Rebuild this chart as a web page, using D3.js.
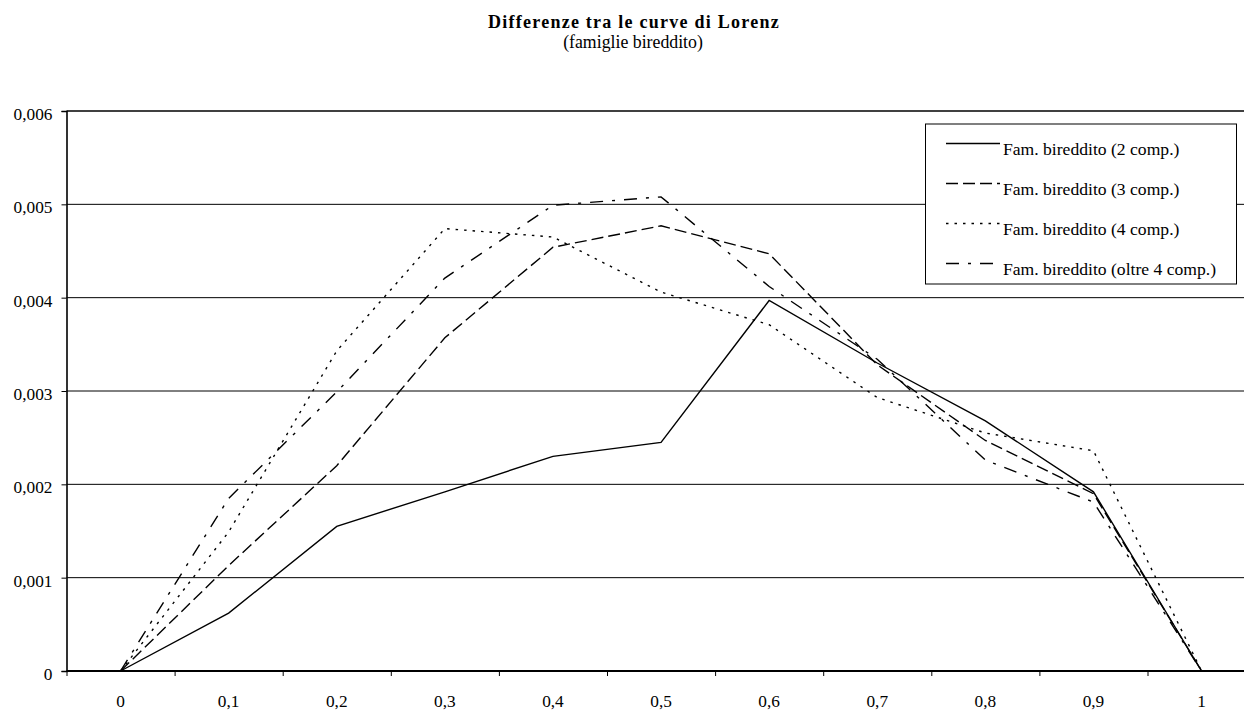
<!DOCTYPE html>
<html>
<head>
<meta charset="utf-8">
<script src="https://cdn.jsdelivr.net/npm/d3@7"></script>
<style>
  html, body { margin: 0; padding: 0; background: #fff; }
  svg { display: block; }
  text { font-family: "Liberation Serif", "Times New Roman", serif; fill: #000; }
</style>
</head>
<body>
<svg id="chart" width="1244" height="711"></svg>
<script>
// ---- data ----
const categories = ["0", "0,1", "0,2", "0,3", "0,4", "0,5", "0,6", "0,7", "0,8", "0,9", "1"];
const seriesNames = [
  "Fam. bireddito (2 comp.)",
  "Fam. bireddito (3 comp.)",
  "Fam. bireddito (4 comp.)",
  "Fam. bireddito (oltre 4 comp.)"
];
const comp2 = [0, 0.00062, 0.00155, 0.00192, 0.00230, 0.00245, 0.00397, 0.00330, 0.00268, 0.00192, 0];
const comp3 = [0, 0.00113, 0.00220, 0.00357, 0.00454, 0.00477, 0.00447, 0.00328, 0.00247, 0.00190, 0];
const comp4 = [0, 0.00149, 0.00343, 0.00474, 0.00465, 0.00406, 0.00371, 0.00293, 0.00255, 0.00236, 0];
const compOltre4 = [0, 0.00185, 0.00299, 0.00421, 0.00499, 0.00508, 0.00412, 0.00334, 0.00226, 0.00181, 0];
const yTicks = [0, 0.001, 0.002, 0.003, 0.004, 0.005, 0.006];
const yTickLabels = ["0", "0,001", "0,002", "0,003", "0,004", "0,005", "0,006"];
const titleText = "Differenze tra le curve di Lorenz";
const subtitleText = "(famiglie bireddito)";

// ---- layout ----
const plot = { left: 66.5, right: 1255.6, top: 111, bottom: 671 };
const svg = d3.select("#chart");

const x = d3.scaleBand().domain(categories).range([plot.left, plot.right]).padding(0);
const xb = d3.scaleLinear().domain([0, categories.length]).range([plot.left, plot.right]);
const y = d3.scaleLinear().domain([0, 0.006]).range([plot.bottom, plot.top]);
const cx = c => x(c) + x.bandwidth() / 2;

// title
svg.append("text").attr("x", 634).attr("y", 28).attr("text-anchor", "middle")
  .style("font-size", "18px").style("font-weight", "bold").style("letter-spacing", "1.25px")
  .text(titleText);
svg.append("text").attr("x", 633).attr("y", 48).attr("text-anchor", "middle")
  .style("font-size", "17.8px").text(subtitleText);

// gridlines
svg.append("g").selectAll("line").data(yTicks.filter(d => d > 0)).join("line")
  .attr("x1", plot.left).attr("x2", plot.right)
  .attr("y1", d => y(d)).attr("y2", d => y(d))
  .attr("stroke", "#000").attr("stroke-width", d => d === 0.006 ? 1.6 : 1);

// y axis
const yAxis = svg.append("g").attr("transform", `translate(${plot.left},0)`)
  .call(d3.axisLeft(y).tickValues(yTicks).tickSize(5).tickPadding(9)
    .tickFormat((d, i) => yTickLabels[i]));
yAxis.select(".domain").attr("stroke", "#000").attr("stroke-width", 1.6);
yAxis.selectAll(".tick line").attr("stroke", "#000").attr("stroke-width", 1);
yAxis.selectAll(".tick text").style("font-size", "17.3px")
  .attr("font-family", null).attr("dy", "0.5em");

// x axis: tick marks at category boundaries
const xTicks = svg.append("g").attr("transform", `translate(0,${plot.bottom})`)
  .call(d3.axisBottom(xb).tickValues(d3.range(0, categories.length + 1)).tickSize(5).tickFormat(""));
xTicks.select(".domain").remove();
xTicks.selectAll(".tick line").attr("stroke", "#000").attr("stroke-width", 1);
// labels at category centers
const xAxis = svg.append("g").attr("transform", `translate(0,${plot.bottom})`)
  .call(d3.axisBottom(x).tickSize(0).tickPadding(24));
xAxis.select(".domain").remove();
xAxis.selectAll(".tick text").style("font-size", "17.3px").attr("font-family", null);
// bottom axis line
svg.append("line").attr("x1", plot.left).attr("x2", plot.right)
  .attr("y1", plot.bottom).attr("y2", plot.bottom)
  .attr("stroke", "#000").attr("stroke-width", 2);

// series
const series = [
  { name: seriesNames[0], values: comp2, dash: null, width: 1.4 },
  { name: seriesNames[1], values: comp3, dash: "12,5", width: 1.4 },
  { name: seriesNames[2], values: comp4, dash: "2.5,6", width: 1.4 },
  { name: seriesNames[3], values: compOltre4, dash: "13,9,3,9", width: 1.4 }
];
const line = d3.line().x((d, i) => cx(categories[i])).y(d => y(d));
svg.append("g").selectAll("path").data(series).join("path")
  .attr("d", d => line(d.values))
  .attr("fill", "none").attr("stroke", "#000")
  .attr("stroke-width", d => d.width)
  .attr("stroke-dasharray", d => d.dash);

// legend
const lg = svg.append("g");
lg.append("rect").attr("x", 925.5).attr("y", 124).attr("width", 311).attr("height", 160)
  .attr("fill", "#fff").attr("stroke", "#000").attr("stroke-width", 1);
const items = lg.selectAll("g.item").data(series).join("g")
  .attr("transform", (d, i) => `translate(0,${143.5 + i * 40})`);
items.append("line").attr("x1", 946).attr("x2", 1000).attr("y1", 0).attr("y2", 0)
  .attr("stroke", "#000").attr("stroke-width", 1.4)
  .attr("stroke-dasharray", d => d.dash);
items.append("text").attr("x", 1003).attr("y", 11.5)
  .style("font-size", "17.6px").text(d => d.name);
</script>
</body>
</html>
